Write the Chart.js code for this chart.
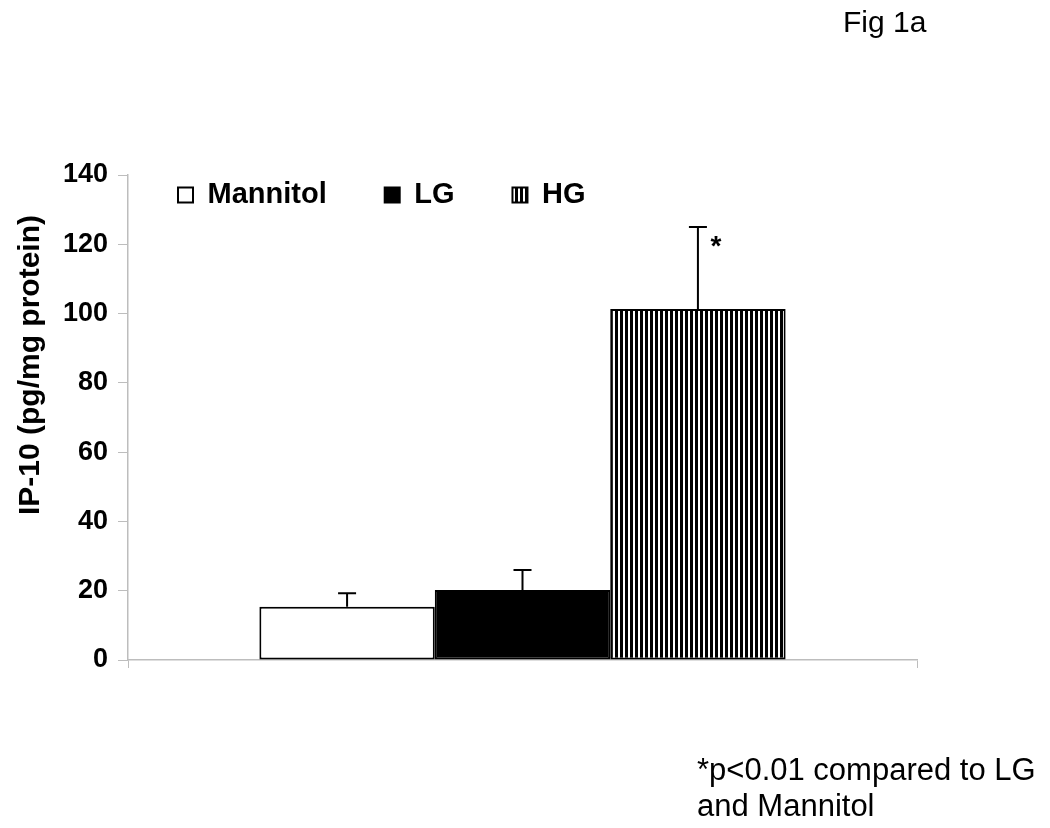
<!DOCTYPE html>
<html>
<head>
<meta charset="utf-8">
<script src="https://cdn.jsdelivr.net/npm/chart.js@4.4.1/dist/chart.umd.min.js"></script>
<style>
  html, body { margin: 0; padding: 0; background: #fff; }
  #wrap { position: relative; width: 1050px; height: 828px; }
  #chartCanvas { position: absolute; left: 0; top: 0; }
  .note { position: absolute; font-family: "Liberation Sans", Arial, sans-serif; color: #000; white-space: nowrap; }
  #figLabel { left: 843px; top: 5px; font-size: 30px; }
  #footnote { left: 697px; top: 752px; font-size: 31px; line-height: 36px; }
  #yTitle { left: 29px; top: 365px; font-size: 30px; font-weight: bold; line-height: 1;
            transform: translate(-50%, -50%) rotate(-90deg); }
</style>
</head>
<body>
<div id="wrap">
  <canvas id="chartCanvas" width="1050" height="828"></canvas>
  <div class="note" id="yTitle">IP-10 (pg/mg protein)</div>
  <div class="note" id="figLabel">Fig 1a</div>
  <div class="note" id="footnote">*p&lt;0.01 compared to LG<br>and Mannitol</div>
</div>
<script>
// --- data ---
const groups = ["Mannitol", "LG", "HG"];
const means = [15.4, 20.2, 101.3];
const errors = [3.9, 5.8, 23.7];
const marks = ["", "", "*"];
const yTicks = [0, 20, 40, 60, 80, 100, 120, 140];

const FONT = "'Liberation Sans', Arial, sans-serif";
const axisGray = "#bdbdbd";

// vertical stripe fill for HG
function stripes() {
  const c = document.createElement("canvas");
  c.width = 5; c.height = 5;
  const g = c.getContext("2d");
  g.fillStyle = "#fff";
  g.fillRect(0, 0, 5, 5);
  g.fillStyle = "#000";
  g.fillRect(0, 0, 3, 5);
  return g.createPattern(c, "repeat");
}

const fills = ["#ffffff", "#000000", stripes()];

// error bars (upper only) + significance mark
const errorBars = {
  id: "errorBars",
  afterDatasetsDraw(chart) {
    const { ctx } = chart;
    const y = chart.scales.y;
    ctx.save();
    ctx.strokeStyle = "#000";
    ctx.lineWidth = 2;
    chart.data.datasets.forEach((ds, i) => {
      const bar = chart.getDatasetMeta(i).data[0];
      const top = y.getPixelForValue(means[i] + errors[i]);
      ctx.beginPath();
      ctx.moveTo(bar.x, bar.y);
      ctx.lineTo(bar.x, top);
      ctx.moveTo(bar.x - 9, top);
      ctx.lineTo(bar.x + 9, top);
      ctx.stroke();
      if (marks[i]) {
        ctx.fillStyle = "#000";
        ctx.font = "bold 28px " + FONT;
        ctx.textAlign = "center";
        ctx.textBaseline = "alphabetic";
        ctx.fillText(marks[i], bar.x + 18, top + 28);
      }
    });
    ctx.restore();
  }
};

// move the legend row down into the plot, top left
const legendInside = {
  id: "legendInside",
  afterLayout(chart) {
    const lg = chart.legend;
    const h = lg.height;
    lg.left = 120;
    lg.top = 122.5;
    lg.bottom = lg.top + h;
    lg.right = 917;
    lg.width = lg.right - lg.left;
  }
};

const datasets = groups.map((name, i) => ({
  label: name,
  data: [means[i]],
  backgroundColor: fills[i],
  borderColor: "#000",
  borderWidth: 2,
  borderSkipped: false
}));

new Chart(document.getElementById("chartCanvas"), {
  type: "bar",
  data: { labels: [""], datasets },
  options: {
    responsive: false,
    animation: false,
    categoryPercentage: 0.667,
    barPercentage: 1.0,
    layout: { padding: { top: 78, right: 133, bottom: 158, left: 0 } },
    plugins: {
      legend: {
        position: "top",
        align: "start",
        labels: {
          boxWidth: 15,
          boxHeight: 15,
          padding: 58,
          color: "#000",
          font: { family: FONT, size: 29, weight: "bold" }
        }
      },
      tooltip: { enabled: false }
    },
    scales: {
      x: {
        grid: { display: true, drawOnChartArea: false, tickLength: 8, color: axisGray, offset: true },
        border: { color: axisGray, width: 1.5 },
        ticks: { display: false },
        afterFit(scale) { scale.height = 10; }
      },
      y: {
        min: 0,
        max: 140,
        afterBuildTicks(scale) { scale.ticks = yTicks.map(v => ({ value: v })); },
        grid: { display: true, drawOnChartArea: false, tickLength: 10, color: axisGray },
        border: { color: axisGray, width: 1.5 },
        ticks: {
          color: "#000",
          padding: 10,
          font: { family: FONT, size: 27, weight: "bold" }
        },
        afterFit(scale) { scale.width = 128; }
      }
    }
  },
  plugins: [errorBars, legendInside]
});
</script>
</body>
</html>
